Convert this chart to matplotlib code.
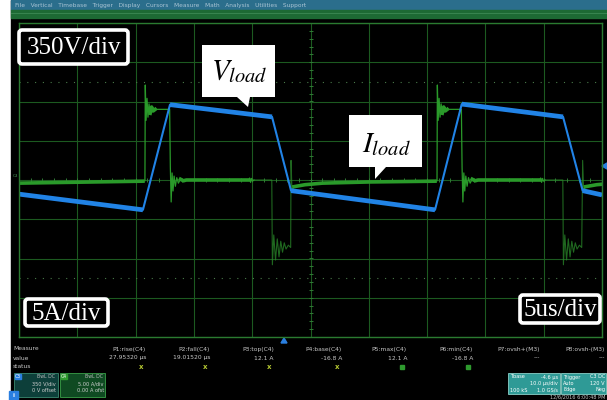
import numpy as np
import matplotlib
matplotlib.use("Agg")
import matplotlib.pyplot as plt
from matplotlib.patches import Rectangle, Polygon, FancyBboxPatch

plt.rcParams['mathtext.fontset'] = 'stix'

# scope settings
volt_per_div = 350.0
amp_per_div = 5.0

# voltage trace corners (time in us, volts)
v_time = [0.0, 10.63, 12.95, 21.7, 23.33, 35.68, 37.97, 46.66, 48.34, 50.0]
v_volt = [-126, -266, 672, 563, -95, -266, 677, 563, -95, -133]

# current trace: edge times per period (rise start, rise end, fall start, fall end)
edges = [(10.63, 12.95, 21.7, 23.33), (35.68, 37.97, 46.66, 48.34)]
i_start = -0.4
i_before_rise = -0.15
i_top = 9.0
# ringing after each event, (offset us, amps)
ring_on = [(0.17, -0.1), (0.2, 12.1), (0.27, 7.6), (0.35, 10.4), (0.43, 8.0),
           (0.52, 9.7), (0.62, 8.5), (0.74, 9.3), (0.88, 8.8), (1.05, 9.0)]
ring_zero = [(0.03, 1.6), (0.1, -2.8), (0.18, 0.9), (0.26, -1.4), (0.35, 0.5),
             (0.46, -0.8), (0.58, 0.3), (0.72, -0.4), (0.9, 0.1), (1.15, -0.1), (1.4, 0.0)]
blip = [(-2.0, 0.0), (-1.92, 0.25), (-1.84, -0.3), (-1.76, 0.2), (-1.68, -0.15), (-1.55, 0.0)]
ring_neg = [(0.03, -10.8), (0.15, -7.0), (0.3, -10.2), (0.45, -7.5), (0.6, -9.8),
            (0.75, -7.8), (0.9, -9.2), (1.05, -8.0), (1.2, -8.8), (1.4, -8.3), (1.6, -8.6)]
ring_ret = [(0.0, 2.5), (0.08, -1.3), (0.25, -0.85), (1.2, -0.6), (2.7, -0.4), (6.7, -0.25)]

# measurement panel
meas_names = ["P1:rise(C4)", "P2:fall(C4)", "P3:top(C4)", "P4:base(C4)",
              "P5:max(C4)", "P6:min(C4)", "P7:ovsh+(M3)", "P8:ovsh-(M3)"]
meas_values = ["27.95320 µs", "19.01520 µs", "12.1 A", "-16.8 A",
               "12.1 A", "-16.8 A", "---", "---"]
meas_status = ["x", "x", "x", "x", "ok", "ok", "", ""]
meas_x = [146, 210, 274, 342, 407, 473, 540, 605]

menu_items = "File   Vertical   Timebase   Trigger   Display   Cursors   Measure   Math   Analysis   Utilities   Support"


def build_current():
    ts, vals = [0.0], [i_start]
    for r0, r1, f0, f1 in edges:
        ts.append(r0); vals.append(i_before_rise)
        for dt, a in ring_on:
            ts.append(r0 + dt); vals.append(a)
        ts.append(r1 - 0.03); vals.append(i_top)
        for dt, a in ring_zero:
            ts.append(r1 + dt); vals.append(a)
        for dt, a in blip:
            ts.append(f0 + dt); vals.append(a)
        ts.append(f0 - 0.02); vals.append(0.0)
        for dt, a in ring_neg:
            ts.append(f0 + dt); vals.append(a)
        for dt, a in ring_ret:
            ts.append(f1 + dt); vals.append(a)
    ts.append(50.5); vals.append(-0.2)
    return np.array(ts), np.array(vals)


fig = plt.figure(figsize=(6.07, 4.0), dpi=100)
fig.patch.set_facecolor('white')

# background overlay in pixel coordinates
bg = fig.add_axes([0, 0, 1, 1])
bg.set_xlim(0, 607)
bg.set_ylim(400, 0)
bg.axis('off')
bg.add_patch(Rectangle((11, 0), 596, 400, color='black', zorder=0))
bg.add_patch(Rectangle((11, 0), 596, 10, color='#2b6e8c', zorder=1))
bg.add_patch(Rectangle((11, 10), 596, 8, color='#1d6a34', zorder=1))
bg.plot([11, 607], [13, 13], color='#3d8a55', lw=0.6, zorder=2)
bg.text(15, 5.5, menu_items, color='#a9c4d4', fontsize=4.2, va='center', ha='left',
        family='DejaVu Sans', zorder=3)

# measurement table
bg.text(13, 349, "Measure", color='#c8c8c8', fontsize=4.3, va='center', family='DejaVu Sans')
bg.text(13, 358, "value", color='#c8c8c8', fontsize=4.3, va='center', family='DejaVu Sans')
bg.text(13, 367, "status", color='#c8c8c8', fontsize=4.3, va='center', family='DejaVu Sans')
for name, val, st, xx in zip(meas_names, meas_values, meas_status, meas_x):
    bg.text(xx, 349, name, color='#c8c8c8', fontsize=4.3, ha='right', va='center', family='DejaVu Sans')
    bg.text(xx, 358, val, color='#c8c8c8', fontsize=4.3, ha='right', va='center', family='DejaVu Sans')
    if st == "x":
        bg.text(xx - 5, 367, "x", color='#b5c832', fontsize=5, ha='center', va='center',
                family='DejaVu Sans', weight='bold')
    elif st == "ok":
        bg.add_patch(Rectangle((xx - 7, 364.5), 4, 4, color='#2e9a2e'))

# channel boxes bottom-left
bg.add_patch(Rectangle((13.5, 373), 44, 24, fc='#0d3f3a', ec='#3a8a70', lw=0.6))
bg.add_patch(Rectangle((14.5, 374), 6, 5, color='#2a7fe0'))
bg.text(17.5, 376.5, "C3", color='white', fontsize=3.3, ha='center', va='center')
bg.text(55, 376.5, "BwL DC", color='#bbbbbb', fontsize=3.3, ha='right', va='center')
bg.text(56, 384, "350 V/div", color='#d0d0d0', fontsize=3.6, ha='right', va='center')
bg.text(56, 391, "0 V offset", color='#d0d0d0', fontsize=3.6, ha='right', va='center')
bg.add_patch(Rectangle((60, 373), 45, 24, fc='#0f4a22', ec='#3aa048', lw=0.6))
bg.add_patch(Rectangle((61, 374), 6, 5, color='#2e9a2e'))
bg.text(64, 376.5, "C4", color='white', fontsize=3.3, ha='center', va='center')
bg.text(103, 376.5, "BwL DC", color='#bbbbbb', fontsize=3.3, ha='right', va='center')
bg.text(104, 384, "5.00 A/div", color='#d0d0d0', fontsize=3.6, ha='right', va='center')
bg.text(104, 391, "0.00 A ofst", color='#d0d0d0', fontsize=3.6, ha='right', va='center')
bg.add_patch(Rectangle((9, 391), 9, 9, color='#2a7fe0', zorder=1))
bg.text(13.5, 395.5, "i", color='white', fontsize=4, ha='center', va='center', weight='bold')

# timebase / trigger boxes bottom-right
bg.add_patch(Rectangle((508, 373), 52, 21, fc='#2f9a96', ec='#8ad0c8', lw=0.6))
bg.text(510, 377, "Tbase", color='white', fontsize=3.6, va='center')
bg.text(558, 377, "-4.6 µs", color='white', fontsize=3.6, ha='right', va='center')
bg.text(558, 383.5, "10.0 µs/div", color='white', fontsize=3.6, ha='right', va='center')
bg.text(510, 390, "100 kS", color='white', fontsize=3.6, va='center')
bg.text(558, 390, "1.0 GS/s", color='white', fontsize=3.6, ha='right', va='center')
bg.add_patch(Rectangle((561, 373), 45, 21, fc='#2f9a96', ec='#8ad0c8', lw=0.6))
bg.text(563, 377, "Trigger", color='white', fontsize=3.6, va='center')
bg.text(605, 377, "C3 DC", color='white', fontsize=3.6, ha='right', va='center')
bg.text(563, 383.5, "Auto", color='white', fontsize=3.6, va='center')
bg.text(605, 383.5, "120 V", color='white', fontsize=3.6, ha='right', va='center')
bg.text(563, 390, "Edge", color='white', fontsize=3.6, va='center')
bg.text(605, 390, "Neg", color='white', fontsize=3.6, ha='right', va='center')
bg.text(605, 397, "12/6/2016 6:00:48 PM", color='#c8c8c8', fontsize=3.6, ha='right', va='center')

# markers
bg.add_patch(Polygon([(281, 343), (287, 343), (284, 338)], color='#2a7fe0'))
bg.add_patch(Polygon([(607, 163), (607, 169), (602, 166)], color='#2a7fe0'))
bg.text(13, 176, "C3", color='#4a9a5a', fontsize=3, ha='left', va='center')

# scope grid (divisions)
ax = fig.add_axes([19 / 607, 63 / 400, 583 / 607, 314 / 400])
ax.set_zorder(2)
ax.set_facecolor('none')
ax.set_xlim(0, 50)
ax.set_ylim(-4, 4)
ax.set_xticks(np.arange(0, 51, 5))
ax.set_yticks(np.arange(-4, 5, 1))
ax.tick_params(length=0, labelbottom=False, labelleft=False)
ax.grid(True, color='#1c5a20', lw=0.8)
for s in ax.spines.values():
    s.set_color('#2a7a30')
    s.set_linewidth(1.0)
for yy in (2.5, -2.5):
    ax.axhline(yy, color='#4a7a4a', lw=0.8, ls=(0, (1, 6)))
minor_x = np.arange(0, 50.01, 1.0)
minor_y = np.arange(-4, 4.01, 0.2)
ax.plot(minor_x, np.zeros_like(minor_x), ls='none', marker='|', ms=3, color='#2f7a34', mew=0.7)
ax.plot(np.full_like(minor_y, 25.0), minor_y, ls='none', marker='_', ms=3, color='#2f7a34', mew=0.7)

# current trace (green)
it, iv = build_current()
neg = np.zeros_like(it, dtype=bool)
for r0, r1, f0, f1 in edges:
    neg |= (it > f0 - 0.03) & (it < f1 + 0.05)
ax.plot(it, np.where(neg | np.roll(neg, 1) | np.roll(neg, -1), iv, np.nan) / amp_per_div,
        color='#2a8a2a', lw=0.8, alpha=0.75)
ax.plot(it, np.where(neg, np.nan, iv) / amp_per_div, color='#2a9a2a', lw=0.9)
steady = ~neg
for r0, r1, f0, f1 in edges:
    steady &= ~(((it > r0 + 0.1) & (it < r0 + 0.6)) | ((it > r1 - 0.05) & (it < r1 + 0.8))
                | ((it > f1 - 0.05) & (it < f1 + 0.2)) | ((it > f0 - 1.95) & (it < f0 - 1.6)))
ax.plot(it, np.where(steady, iv, np.nan) / amp_per_div, color='#2a9a2a', lw=2.6)

# voltage trace (blue)
vt = np.array(v_time)
vv = np.array(v_volt) / volt_per_div
ax.plot(vt, vv, color='#2183e6', lw=1.5)
for k in range(0, len(vt) - 1, 2):
    ax.plot(vt[k:k + 2], vv[k:k + 2], color='#2183e6', lw=3.4, solid_capstyle='butt')

# labels overlay
fg = fig.add_axes([0, 0, 1, 1])
fg.set_zorder(3)
fg.set_facecolor('none')
fg.set_xlim(0, 607)
fg.set_ylim(400, 0)
fg.axis('off')

serif = ['Liberation Serif', 'DejaVu Serif']
boxes = [("350V/div", 17, 28, 113, 38), ("5A/div", 23, 297, 87, 31), ("5us/div", 518, 293, 84, 32)]
for txt, bx, by, bw, bh in boxes:
    fg.add_patch(FancyBboxPatch((bx + 2, by + 2), bw - 4, bh - 4,
                                boxstyle="round,pad=0,rounding_size=3",
                                fc='black', ec='white', lw=2.6))
    fg.text(bx + bw / 2, by + bh / 2 + 1, txt, color='white', fontsize=18,
            family=serif, ha='center', va='center')

fg.add_patch(Polygon([(202, 45), (275, 45), (275, 97), (250, 97), (248, 107),
                      (237, 97), (202, 97)], fc='white', ec='none'))
fg.text(239, 79, r'$V_{load}$', fontsize=21, color='black', ha='center', va='baseline')
fg.add_patch(Polygon([(349, 115), (422, 115), (422, 167), (386, 167), (375, 179),
                      (375, 167), (349, 167)], fc='white', ec='none'))
fg.text(386, 152, r'$I_{load}$', fontsize=21, color='black', ha='center', va='baseline')

fig.savefig('out.png', dpi=100, facecolor='white')
